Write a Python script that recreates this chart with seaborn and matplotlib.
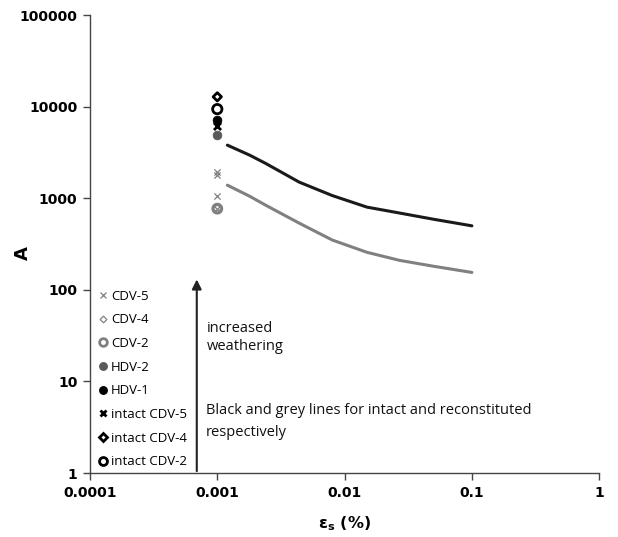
import matplotlib
matplotlib.use("Agg")
import matplotlib.pyplot as plt
from matplotlib import font_manager as fm
from matplotlib.lines import Line2D
import seaborn as sns
import pandas as pd

# Stiffness parameter A against threshold shear strain for each sample
strain_points = [0.001]
cdv5 = [1950, 1800, 1050, 770]
cdv4 = [770]
cdv2 = [770]
hdv2 = [4900]
hdv1 = [7100]
intact_cdv5 = [6100]
intact_cdv4 = [12800]
intact_cdv2 = [9400]

# Trend lines: intact (black) and reconstituted (grey)
line_strain = [0.0012, 0.0018, 0.0024, 0.0044, 0.008, 0.015, 0.027, 0.05, 0.1]
intact_line = [3800, 2950, 2400, 1500, 1070, 800, 690, 590, 500]
recon_line = [1390, 1050, 840, 535, 350, 257, 210, 181, 155]

x_ticks = [0.0001, 0.001, 0.01, 0.1, 1]
x_tick_labels = ["0.0001", "0.001", "0.01", "0.1", "1"]
y_ticks = [1, 10, 100, 1000, 10000, 100000]
y_tick_labels = ["1", "10", "100", "1000", "10000", "100000"]

sns.set_style("white")
plt.rcParams["font.family"] = ["Liberation Sans", "DejaVu Sans"]
plt.rcParams["text.color"] = "black"
plt.rcParams["axes.labelcolor"] = "black"

fig = plt.figure(figsize=(6.18, 5.37), dpi=100)
ax = fig.add_axes([0.1456, 0.119, 0.824, 0.853])

GREY = "#808080"
DGREY = "#5a5a5a"
BLACK = "#000000"

lines_df = pd.DataFrame({"strain": line_strain, "intact": intact_line, "recon": recon_line})
sns.lineplot(data=lines_df, x="strain", y="intact", ax=ax, color="#1a1a1a", lw=2.2)
sns.lineplot(data=lines_df, x="strain", y="recon", ax=ax, color=GREY, lw=2.2)

series = [
    ("CDV-5", cdv5, dict(marker="x", s=20, color=GREY, linewidths=0.9)),
    ("CDV-4", cdv4, dict(marker="D", s=16, facecolor="none", edgecolor=GREY, linewidths=0.9)),
    ("CDV-2", cdv2, dict(marker="o", s=42, facecolor="none", edgecolor=GREY, linewidths=2.0)),
    ("HDV-2", hdv2, dict(marker="o", s=40, color=DGREY, edgecolor=DGREY)),
    ("HDV-1", hdv1, dict(marker="o", s=40, color=BLACK, edgecolor=BLACK)),
    ("intact CDV-5", intact_cdv5, dict(marker="x", s=26, color=BLACK, linewidths=2.0)),
    ("intact CDV-4", intact_cdv4, dict(marker="D", s=18, facecolor="none", edgecolor=BLACK, linewidths=2.0)),
    ("intact CDV-2", intact_cdv2, dict(marker="o", s=45, facecolor="none", edgecolor=BLACK, linewidths=2.0)),
]

handles = []
for name, vals, kw in series:
    df = pd.DataFrame({"strain": [strain_points[0]] * len(vals), "A": vals})
    sns.scatterplot(data=df, x="strain", y="A", ax=ax, zorder=3, **kw)
    ms = (kw["s"] ** 0.5) * 0.85
    if kw["marker"] == "x":
        h = Line2D([], [], ls="none", marker="x", ms=ms, color=kw["color"],
                   mew=kw.get("linewidths", 1))
    elif kw.get("facecolor") == "none":
        h = Line2D([], [], ls="none", marker=kw["marker"], ms=ms, mfc="none",
                   mec=kw["edgecolor"], mew=kw.get("linewidths", 1))
    else:
        h = Line2D([], [], ls="none", marker="o", ms=ms, color=kw["color"])
    handles.append((h, name))

ax.set_xscale("log")
ax.set_yscale("log")
ax.set_xlim(0.0001, 1)
ax.set_ylim(1, 100000)
ax.set_xticks(x_ticks)
ax.set_xticklabels(x_tick_labels)
ax.set_yticks(y_ticks)
ax.set_yticklabels(y_tick_labels)
ax.minorticks_off()
ax.tick_params(axis="both", which="major", length=5, width=1, color="#444444",
               direction="out", left=True, bottom=True, pad=4, labelcolor="black")

for side in ["top", "right"]:
    ax.spines[side].set_visible(False)
for side in ["left", "bottom"]:
    ax.spines[side].set_color("#444444")
    ax.spines[side].set_linewidth(1.0)

ax.set_xlabel(r"$\mathbf{\varepsilon_s}$ (%)", family="DejaVu Sans", fontsize=11.5,
              fontweight="bold")
ax.xaxis.set_label_coords(0.5, -0.09)
ax.set_ylabel("A", family="DejaVu Sans", fontsize=13, fontweight="bold")
ax.yaxis.set_label_coords(-0.114, 0.48)

leg = ax.legend([h for h, _ in handles], [n for _, n in handles], loc="lower left",
                bbox_to_anchor=(0.0, -0.01), frameon=False, handlelength=0.6,
                handletextpad=0.3, labelspacing=0.81, borderaxespad=0.3,
                prop={"family": "Open Sans", "size": 9.5}, labelcolor="black")

# Weathering arrow and annotations
ax.annotate("", xy=(0.00069, 130), xytext=(0.00069, 1.05),
            arrowprops=dict(arrowstyle="-|>", color="#222222", lw=1.5,
                            mutation_scale=14, shrinkA=0, shrinkB=0))
ax.text(0.00083, 30, "increased\nweathering", fontsize=10.5, family="Open Sans",
        va="center", ha="left", linespacing=1.3, color="#111111")
ax.text(0.00081, 3.66, "Black and grey lines for intact and reconstituted\nrespectively",
        fontsize=10.5, family="Open Sans", va="center", ha="left", linespacing=1.55,
        color="#111111")

# Bold tick labels, applied once the ticks exist
fig.canvas.draw()
tick_font = fm.FontProperties(family="DejaVu Sans", weight="bold", size=10)
for lab in ax.get_xticklabels() + ax.get_yticklabels():
    lab.set_fontproperties(tick_font)
    lab.set_color("black")

fig.savefig("out.png", dpi=100)
